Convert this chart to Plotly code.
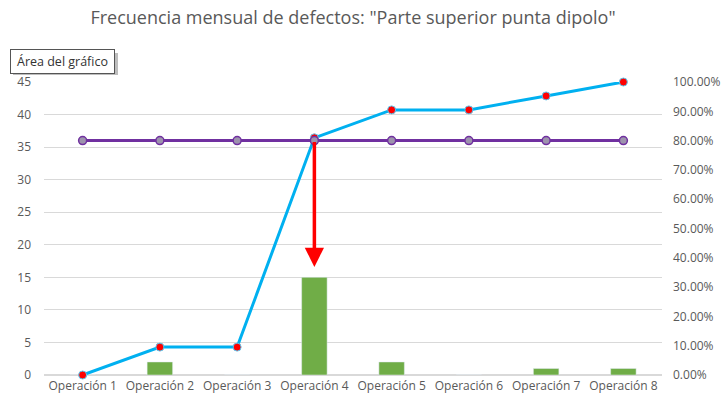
import plotly.graph_objects as go

# Defect counts per operation
categories = ["Operación 1", "Operación 2", "Operación 3", "Operación 4",
              "Operación 5", "Operación 6", "Operación 7", "Operación 8"]
defects = [0, 2, 0, 15, 2, 0, 1, 1]
# Cumulative share (fraction of total defects)
cumulative = [0.0, 0.0952, 0.0952, 0.8095, 0.9048, 0.9048, 0.9524, 1.0]
# Pareto cut-off line
threshold = [0.8] * len(categories)

left_ticks = list(range(0, 50, 5))
right_ticks = [i / 10 for i in range(0, 11)]

W, H = 721, 396
ML, MR, MT, MB = 44, 59, 82, 21
PW, PH = W - ML - MR, H - MT - MB


def px_x(p):
    return (p - ML) / PW


def px_y(p):
    return (H - MB - p) / PH


FONT = "Segoe UI, Open Sans, sans-serif"
GRAY = "#595959"
GRID = "#d9d9d9"

fig = go.Figure()

fig.add_trace(go.Bar(
    x=categories, y=defects, marker_color="#70AD47", width=0.33,
    yaxis="y", showlegend=False, hoverinfo="skip"))

fig.add_trace(go.Scatter(
    x=categories, y=cumulative, yaxis="y2", mode="lines+markers",
    line=dict(color="#00B0F0", width=3), cliponaxis=False,
    marker=dict(color="#FF0000", size=8, line=dict(color="#5BC8F0", width=1)),
    showlegend=False, hoverinfo="skip"))

fig.add_trace(go.Scatter(
    x=categories, y=threshold, yaxis="y2", mode="lines+markers",
    line=dict(color="#7030A0", width=3), cliponaxis=False,
    marker=dict(color="#9D93AD", size=8, line=dict(color="#7030A0", width=1.5)),
    showlegend=False, hoverinfo="skip"))

# Arrow from the 80% line down to just above the largest bar
left_max = 45
peak = categories[defects.index(max(defects))]
fig.add_annotation(
    x=peak, y=max(defects) + 1.6, xref="x", yref="y",
    ax=peak, ay=threshold[0] * left_max, axref="x", ayref="y",
    showarrow=True, arrowhead=2, arrowsize=1.1, arrowwidth=3.5,
    arrowcolor="#FF0000", text="", standoff=0, startstandoff=0)

# "Área del gráfico" label box with drop shadow
fig.add_shape(type="rect", xref="paper", yref="paper",
              x0=px_x(13), x1=px_x(118), y0=px_y(75), y1=px_y(53),
              fillcolor="#bdbdbd", line=dict(width=0), layer="above")
fig.add_annotation(
    x=px_x(10), y=px_y(61.5), xref="paper", yref="paper",
    xanchor="left", yanchor="middle", showarrow=False,
    text="Área del gráfico", font=dict(family=FONT, size=12.5, color="#333333"),
    bgcolor="white", bordercolor="#555555", borderwidth=1, borderpad=3,
    width=97, align="center")

fig.update_layout(
    width=W, height=H,
    margin=dict(l=ML, r=MR, t=MT, b=MB),
    paper_bgcolor="white", plot_bgcolor="white",
    font=dict(family=FONT, size=12, color=GRAY),
    title=dict(text='Frecuencia mensual de defectos: "Parte superior punta dipolo"',
               x=0.5, xref="paper", xanchor="center", y=1 - 18 / H, yanchor="middle",
               font=dict(family=FONT, size=18, color=GRAY)),
    bargap=0.67,
    xaxis=dict(showgrid=False, showline=False, zeroline=False, automargin=False,
               tickfont=dict(size=12, color=GRAY), ticks="", ticklabelstandoff=2,
               range=[-0.5, len(categories) - 0.5]),
    yaxis=dict(range=[0, 45], tickvals=left_ticks, showgrid=True, automargin=False,
               gridcolor=GRID, gridwidth=1, zeroline=True, zerolinecolor=GRID,
               showline=False, ticks="", ticklabelstandoff=12,
               tickfont=dict(size=12, color=GRAY)),
    yaxis2=dict(range=[0, 1], tickvals=right_ticks, tickformat=".2%",
                overlaying="y", side="right", showgrid=False, zeroline=False,
                showline=False, ticks="", ticklabelstandoff=10, automargin=False,
                tickfont=dict(size=12, color=GRAY)),
)

fig.write_html("out.html")
